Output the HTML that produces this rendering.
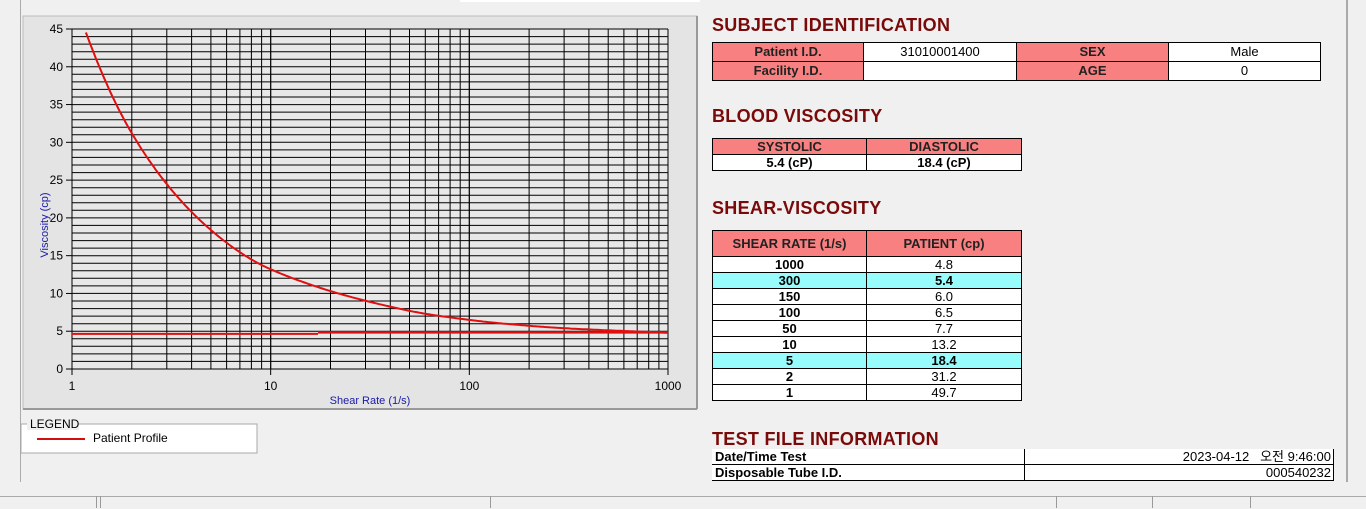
<!DOCTYPE html>
<html><head><meta charset="utf-8"><style>
body{margin:0;width:1366px;height:508px;background:#f0f0f0;position:relative;overflow:hidden;font-family:"Liberation Sans","Noto Sans CJK KR",sans-serif}
.a{position:absolute}
h2{position:absolute;margin:0;font:bold 18px "Liberation Sans",sans-serif;color:#7a0a0a;letter-spacing:0.3px}
table{position:absolute;border-collapse:collapse;font-size:13px}
td{border:1px solid #000;padding:0;text-align:center;height:15px;line-height:15px}
.h{background:#f88080;font-weight:bold;color:#222}
.w{background:#fff}
.c{background:#99fcfc;font-weight:bold}
.b{font-weight:bold}
.s td{height:18px;line-height:18px}
</style></head><body>
<div class="a" style="left:0;top:0;width:20px;height:482px;border-right:1px solid #aaa;background:#f0f0f0"></div>
<div class="a" style="left:460px;top:0;width:240px;height:2px;background:#fff"></div>
<div class="a" style="left:1346px;top:0;width:2px;height:482px;background:#aaa"></div>
<div class="a" style="left:0;top:496px;width:1366px;height:12px;border-top:1px solid #aaa"></div>
<div class="a" style="left:96px;top:496px;width:1px;height:12px;background:#999"></div>
<div class="a" style="left:100px;top:496px;width:1px;height:12px;background:#999"></div>
<div class="a" style="left:490px;top:496px;width:1px;height:12px;background:#999"></div>
<div class="a" style="left:1056px;top:496px;width:1px;height:12px;background:#999"></div>
<div class="a" style="left:1152px;top:496px;width:1px;height:12px;background:#999"></div>
<div class="a" style="left:1250px;top:496px;width:1px;height:12px;background:#999"></div>
<svg class="a" style="left:0;top:0" width="700" height="470" id="s">
<rect x="23" y="16" width="674" height="393" fill="#e4e4e4" stroke="#bbb"/>
<line x1="23" y1="409" x2="697" y2="409" stroke="#999" stroke-width="2"/>
<line x1="697" y1="16" x2="697" y2="409" stroke="#999" stroke-width="2"/>
<rect x="72" y="29" width="596" height="340" fill="#e8e8e8"/>
<g id="g"></g>
<text x="48" y="225" transform="rotate(-90 48 225)" fill="#1a1aa8" font-size="11" text-anchor="middle" font-family="Liberation Sans">Viscosity (cp)</text>
<text x="370" y="404" fill="#1a1aa8" font-size="11" text-anchor="middle" font-family="Liberation Sans">Shear Rate (1/s)</text>
<rect x="21" y="424" width="236" height="29" fill="#fff" stroke="#aaa"/>
<rect x="27" y="416" width="52" height="14" fill="#f0f0f0"/>
<text x="30" y="428" font-size="12" font-family="Liberation Sans">LEGEND</text>
<line x1="37" y1="439" x2="85" y2="439" stroke="#d01010" stroke-width="2"/>
<text x="93" y="442" font-size="12" font-family="Liberation Sans">Patient Profile</text>
</svg>
<script>
var g=document.getElementById('g'),h='';
function X(v){return 72+Math.log10(v)*596/3}
function Y(v){return 369-v*340/45}
for(var i=0;i<=45;i++){var y=Y(i).toFixed(1);h+='<line x1="72" y1="'+y+'" x2="668" y2="'+y+'" stroke="#000"/>';}
for(var d=1;d<=100;d*=10)for(var k=1;k<=10;k++){var x=X(d*k).toFixed(1);h+='<line x1="'+x+'" y1="29" x2="'+x+'" y2="369" stroke="#000"/>';}
for(var i=0;i<=45;i+=5){var y=Y(i);h+='<line x1="66" y1="'+y+'" x2="72" y2="'+y+'" stroke="#000"/><text x="63" y="'+(y+4)+'" font-size="12" text-anchor="end" font-family="Liberation Sans">'+i+'</text>';}
[1,10,100,1000].forEach(function(v){var x=X(v);h+='<line x1="'+x+'" y1="369" x2="'+x+'" y2="375" stroke="#000"/><text x="'+x+'" y="390" font-size="12" text-anchor="middle" font-family="Liberation Sans">'+v+'</text>';});
var P=[[1,49.7],[2,31.2],[5,18.4],[10,13.2],[50,7.7],[100,6.5],[150,6.0],[300,5.4],[1000,4.8]];
var lx=P.map(function(p){return Math.log10(p[0])}),ly=P.map(function(p){return Math.log(p[1])});
function f(t){for(var j=0;j<P.length-1;j++)if(t<=lx[j+1]){var j0=Math.max(j-1,0),j3=Math.min(j+2,P.length-1);var u=(t-lx[j])/(lx[j+1]-lx[j]);
var m1=(ly[j+1]-ly[j0])/(lx[j+1]-lx[j0])*(lx[j+1]-lx[j]),m2=(ly[j3]-ly[j])/(lx[j3]-lx[j])*(lx[j+1]-lx[j]);
var u2=u*u,u3=u2*u;return Math.exp((2*u3-3*u2+1)*ly[j]+(u3-2*u2+u)*m1+(-2*u3+3*u2)*ly[j+1]+(u3-u2)*m2);}return 4.8}
var pts=[];for(var t=0.06;t<=3.0001;t+=0.01){var v=f(t);if(v<=45)pts.push(X(Math.pow(10,t)).toFixed(1)+','+Y(v).toFixed(1));}
h+='<polyline points="'+pts.join(' ')+'" fill="none" stroke="#e01010" stroke-width="2"/>';
h+='<line x1="72" y1="'+Y(4.65)+'" x2="318" y2="'+Y(4.65)+'" stroke="#e01010" stroke-width="2"/>';
h+='<line x1="318" y1="'+Y(4.85)+'" x2="668" y2="'+Y(4.85)+'" stroke="#e01010" stroke-width="2.5"/>';
g.innerHTML=h;
</script>
<h2 style="left:712px;top:15px">SUBJECT IDENTIFICATION</h2>
<table class="s" style="left:712px;top:42px;width:609px">
<tr><td class="h" style="width:150px">Patient I.D.</td><td class="w" style="width:152px">31010001400</td><td class="h" style="width:151px">SEX</td><td class="w">Male</td></tr>
<tr><td class="h">Facility I.D.</td><td class="w"></td><td class="h">AGE</td><td class="w">0</td></tr>
</table>
<h2 style="left:712px;top:106px">BLOOD VISCOSITY</h2>
<table style="left:712px;top:138px;width:310px">
<tr><td class="h" style="width:153px;height:15px">SYSTOLIC</td><td class="h" style="height:15px">DIASTOLIC</td></tr>
<tr><td class="w b" style="height:14px">5.4 (cP)</td><td class="w b" style="height:14px">18.4 (cP)</td></tr>
</table>
<h2 style="left:712px;top:198px">SHEAR-VISCOSITY</h2>
<table style="left:712px;top:230px;width:310px">
<tr><td class="h" style="width:153px;height:25px">SHEAR RATE (1/s)</td><td class="h" style="height:25px">PATIENT (cp)</td></tr>
<tr><td class="w b">1000</td><td class="w">4.8</td></tr>
<tr><td class="c">300</td><td class="c">5.4</td></tr>
<tr><td class="w b">150</td><td class="w">6.0</td></tr>
<tr><td class="w b">100</td><td class="w">6.5</td></tr>
<tr><td class="w b">50</td><td class="w">7.7</td></tr>
<tr><td class="w b">10</td><td class="w">13.2</td></tr>
<tr><td class="c">5</td><td class="c">18.4</td></tr>
<tr><td class="w b">2</td><td class="w">31.2</td></tr>
<tr><td class="w b">1</td><td class="w">49.7</td></tr>
</table>
<h2 style="left:712px;top:429px">TEST FILE INFORMATION</h2>
<table style="left:712px;top:449px;width:622px">
<tr><td class="w b" style="width:309px;text-align:left;padding-left:3px;border-left:none;border-top:none">Date/Time Test</td><td class="w" style="text-align:right;padding-right:2px;border-top:none">2023-04-12&nbsp;&nbsp;&nbsp;오전 9:46:00</td></tr>
<tr><td class="w b" style="text-align:left;padding-left:3px;border-left:none">Disposable Tube I.D.</td><td class="w" style="text-align:right;padding-right:2px">000540232</td></tr>
</table>
</body></html>
